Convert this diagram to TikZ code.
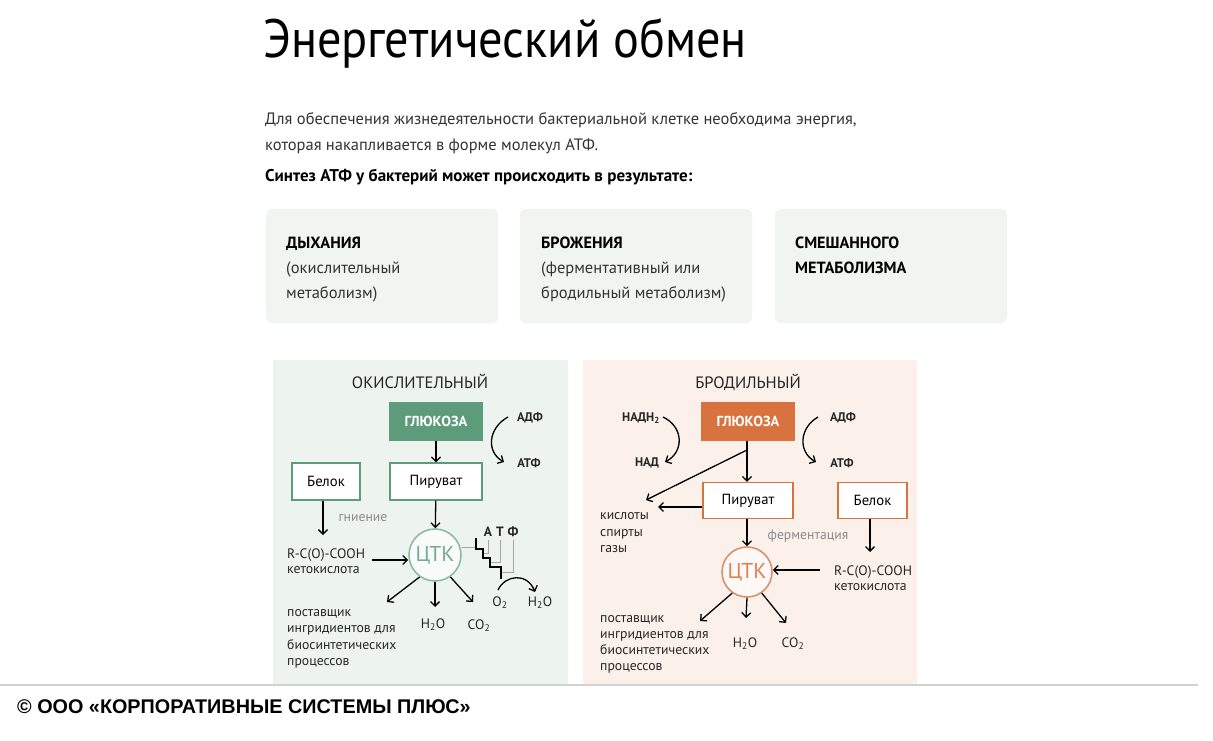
\documentclass[tikz,border=0pt]{standalone}
\usepackage{fontspec}
\setmainfont{PT Sans}
\newfontfamily\narrowfont{PT Sans}
\newfontfamily\titlefont[FakeStretch=0.895]{PT Sans}
\newfontfamily\footfont{Liberation Sans}
\usetikzlibrary{arrows.meta}
\definecolor{boxbg}{HTML}{F0F5F2}
\definecolor{leftbg}{HTML}{EDF4F0}
\definecolor{rightbg}{HTML}{FCF1EA}
\definecolor{gr}{HTML}{5C9C7B}
\definecolor{grl}{HTML}{8DBBA2}
\definecolor{orr}{HTML}{D8733F}
\definecolor{orl}{HTML}{DB9068}
\definecolor{txt}{HTML}{333333}
\definecolor{gtxt}{HTML}{8A8A8A}
\tikzset{
  lbl/.style={inner sep=0pt, font=\narrowfont\fontsize{13.7}{15}\selectfont, text=black!85},
  bl/.style={inner sep=0pt, font=\narrowfont\bfseries\fontsize{12.5}{15}\selectfont, text=black!85},
  txtw/.style={inner sep=0pt, anchor=base west},
  para/.style={txtw, font=\narrowfont\fontsize{16.5}{18}\selectfont, text=txt},
  parb/.style={txtw, font=\narrowfont\bfseries\fontsize{16.2}{18}\selectfont, text=black},
  boxg/.style={draw=gr, line width=1.2pt, fill=white, minimum height=37pt, inner sep=0pt, font=\narrowfont\fontsize{14.7}{16}\selectfont},
  boxo/.style={draw=orr, line width=1.2pt, fill=white, minimum height=36pt, inner sep=0pt, font=\narrowfont\fontsize{14.7}{16}\selectfont},
  arr/.style={draw=black, line width=1.3pt, -{Straight Barb[length=4.5pt,width=9pt]}},
  card/.style={fill=boxbg, rounded corners=6pt, draw=none}
}
\begin{document}
\begin{tikzpicture}[x=1pt,y=-1pt]
\useasboundingbox (0,0) rectangle (1213,741);
\fill[white] (0,0) rectangle (1213,741);

% title and intro
\node[txtw, font=\titlefont\fontsize{54}{60}\selectfont, text=black] (title) at (263,58) {Энергетический обмен};
\node[para] (p1) at (265,125) {Для обеспечения жизнедеятельности бактериальной клетке необходима энергия,};
\node[para] (p2) at (265,150) {которая накапливается в форме молекул АТФ.};
\node[txtw, font=\narrowfont\bfseries\fontsize{17}{18}\selectfont, text=black] (p3) at (265,182) {Синтез АТФ у бактерий может происходить в результате:};

% three cards
\fill[card] (266,209) rectangle (498,323);
\fill[card] (520,209) rectangle (752,323);
\fill[card] (775,209) rectangle (1007,323);
\node[parb] (c1a) at (286,248) {ДЫХАНИЯ};
\node[para] (c1b) at (286,273) {(окислительный};
\node[para] (c1c) at (286,298) {метаболизм)};
\node[parb] (c2a) at (541,248) {БРОЖЕНИЯ};
\node[para] (c2b) at (541,273) {(ферментативный или};
\node[para] (c2c) at (541,298) {бродильный метаболизм)};
\node[parb] (c3a) at (795,248) {СМЕШАННОГО};
\node[parb] (c3b) at (795,273) {МЕТАБОЛИЗМА};

% panels
\fill[leftbg] (273,360) rectangle (568,684);
\fill[rightbg] (583,360) rectangle (917,684);

% ===== left: oxidative =====
\node[lbl, font=\narrowfont\fontsize{16.5}{17}\selectfont] (ox) at (420,381) {ОКИСЛИТЕЛЬНЫЙ};
\node[boxg, fill=gr, minimum width=92pt, text=white, font=\narrowfont\bfseries\fontsize{14.5}{16}\selectfont] (glu1) at (436,421.5) {ГЛЮКОЗА};
\node[boxg, minimum width=68pt] (bel1) at (326,481.5) {Белок};
\node[boxg, minimum width=92pt] (pir1) at (436,481.5) {Пируват};
\node[circle, draw=grl, line width=1.6pt, fill=white!60!leftbg, minimum size=52pt, inner sep=0pt, text=gr!85, font=\narrowfont\fontsize{21.5}{22}\selectfont] (tck1) at (435,555) {ЦТК};
\node[bl] (adf1) at (530,418) {АДФ};
\node[bl] (atf1) at (529,463) {АТФ};
\node[lbl, text=gtxt] (gn) at (363,518) {гниение};
\node[lbl, anchor=base west] (rc1) at (287,558) {R-C(O)-COOH};
\node[lbl, anchor=base west] (ke1) at (287,573) {кетокислота};
\node[lbl, anchor=base west] (ps1a) at (287,616) {поставщик};
\node[lbl, anchor=base west] (ps1b) at (287,632) {ингридиентов для};
\node[lbl, anchor=base west] (ps1c) at (287,649) {биосинтетических};
\node[lbl, anchor=base west] (ps1d) at (287,665) {процессов};
\node[lbl] (h2o1) at (433,625) {H\textsubscript{2}O};
\node[lbl] (co21) at (479,626) {CO\textsubscript{2}};
\node[lbl] (o21) at (500,603) {O\textsubscript{2}};
\node[lbl] (h2o1b) at (540,603) {H\textsubscript{2}O};
\node[bl, font=\narrowfont\bfseries\fontsize{13.5}{15}\selectfont] (la) at (488,532) {А};
\node[bl, font=\narrowfont\bfseries\fontsize{13.5}{15}\selectfont] (lt) at (500,532) {Т};
\node[bl, font=\narrowfont\bfseries\fontsize{13.5}{15}\selectfont] (lf) at (513,532) {Ф};

\draw[arr] (glu1) -- (pir1);
\draw[arr] (pir1) -- (tck1);
\coordinate (b1end) at (323,535);
\draw[arr] (bel1.south -| b1end) -- (b1end);
\coordinate (k1s) at (372,560);
\draw[arr] (k1s) -- (tck1.west |- k1s);
\draw[arr] (508,417) .. controls (488,428) and (486,452) .. (504,462);
\coordinate (t1l) at (387,602);
\coordinate (t1d) at (435,607);
\coordinate (t1r) at (473,602);
\draw[arr] (tck1.235) -- (t1l);
\draw[arr] (tck1.south) -- (t1d);
\draw[arr] (tck1.305) -- (t1r);
% ATP synthase staircase
\draw[gray!70, line width=1pt] (tck1.east |- 0,547) -- (476,547);
\draw[gray!70, line width=1pt] (488,540) |- (483,553);
\draw[gray!70, line width=1pt] (500,540) |- (490,562);
\draw[gray!70, line width=1pt] (513,540) |- (502,572);
\draw[black, line width=1.4pt] (476,538) |- (483,549) |- (490,558) |- (501,567) -- (501,579);
\draw[arr] (498,590) .. controls (505,575) and (527,572) .. (535,592);

% ===== right: fermentation =====
\node[lbl, font=\narrowfont\fontsize{16.5}{17}\selectfont] (br) at (748,382) {БРОДИЛЬНЫЙ};
\node[boxo, fill=orr, minimum width=92pt, minimum height=37pt, text=white, font=\narrowfont\bfseries\fontsize{14.5}{16}\selectfont] (glu2) at (748,421.5) {ГЛЮКОЗА};
\node[boxo, minimum width=90pt] (pir2) at (748,500.5) {Пируват};
\node[boxo, minimum width=69pt] (bel2) at (872.5,500.5) {Белок};
\node[circle, draw=orl, line width=1.6pt, fill=white!60!rightbg, minimum size=50pt, inner sep=0pt, text=orr!90, font=\narrowfont\fontsize{21.5}{22}\selectfont] (tck2) at (747,572) {ЦТК};
\node[bl] (nadh) at (641,418) {НАДН\textsubscript{2}};
\node[bl] (nad) at (647,463) {НАД};
\node[bl] (adf2) at (843,418) {АДФ};
\node[bl] (atf2) at (842,463) {АТФ};
\node[lbl, anchor=base west] (ks) at (600,519) {кислоты};
\node[lbl, anchor=base west] (sp) at (600,536) {спирты};
\node[lbl, anchor=base west] (gz) at (600,552) {газы};
\node[lbl, text=gtxt] (fe) at (808,536) {ферментация};
\node[lbl, anchor=base west] (rc2) at (834,575) {R-C(O)-COOH};
\node[lbl, anchor=base west] (ke2) at (834,590) {кетокислота};
\node[lbl, anchor=base west] (ps2a) at (600,622) {поставщик};
\node[lbl, anchor=base west] (ps2b) at (600,638) {ингридиентов для};
\node[lbl, anchor=base west] (ps2c) at (600,654) {биосинтетических};
\node[lbl, anchor=base west] (ps2d) at (600,670) {процессов};
\node[lbl] (h2o2) at (745,644) {H\textsubscript{2}O};
\node[lbl] (co22) at (793,644) {CO\textsubscript{2}};

\coordinate (br2) at (747,450);
\draw[line width=1.3pt] (glu2.south -| br2) -- (br2);
\draw[arr] (br2) -- (pir2.north -| br2);
\coordinate (ksend) at (646,500);
\draw[arr] (br2) -- (ksend);
\coordinate (pirl) at (658,507);
\draw[arr] (pir2.west |- pirl) -- (pirl);
\draw[arr] (pir2.south -| tck2) -- (tck2);
\coordinate (b2end) at (870,552);
\draw[arr] (bel2.south -| b2end) -- (b2end);
\coordinate (k2s) at (820,570);
\draw[arr] (k2s) -- (tck2.east |- k2s);
\draw[arr] (663,417) .. controls (684,427) and (684,452) .. (665,462);
\draw[arr] (818,417) .. controls (799,428) and (798,452) .. (816,462);
\coordinate (t2l) at (700,621);
\coordinate (t2d) at (746,618);
\coordinate (t2r) at (786,623);
\draw[arr] (tck2.235) -- (t2l);
\draw[arr] (tck2.south) -- (t2d);
\draw[arr] (tck2.305) -- (t2r);

% footer
\fill[white] (0,685) rectangle (1213,741);
\draw[black!18, line width=2pt] (0,685) -- (1198,685);
\node[txtw, font=\footfont\bfseries\fontsize{19.8}{21}\selectfont] (foot) at (17,713) {© ООО «КОРПОРАТИВНЫЕ СИСТЕМЫ ПЛЮС»};
\end{tikzpicture}
\end{document}
